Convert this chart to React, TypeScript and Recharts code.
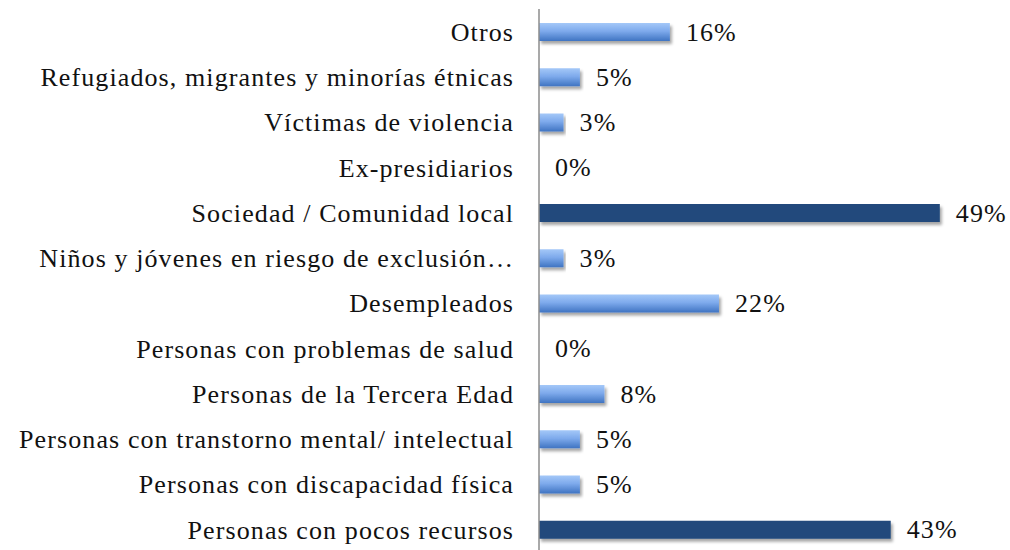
import { BarChart, Bar, XAxis, YAxis, Cell, LabelList } from "recharts";

const categories = [
  "Otros",
  "Refugiados, migrantes y minorías étnicas",
  "Víctimas de violencia",
  "Ex-presidiarios",
  "Sociedad / Comunidad local",
  "Niños y jóvenes en riesgo de exclusión…",
  "Desempleados",
  "Personas con problemas de salud",
  "Personas de la Tercera Edad",
  "Personas con transtorno mental/ intelectual",
  "Personas con discapacidad física",
  "Personas con pocos recursos",
];

const percentages = [16, 5, 3, 0, 49, 3, 22, 0, 8, 5, 5, 43];

// the two groups drawn in dark blue
const highlighted = ["Sociedad / Comunidad local", "Personas con pocos recursos"];

const data = categories.map((name, i) => ({ name, value: percentages[i] }));

const FONT = "'Liberation Serif', serif";
const textStyle = { fill: "#111", fontSize: 26, fontFamily: FONT, letterSpacing: 1.1 };

const ValueLabel = (props: any) => {
  const { x, y, width, height, value } = props;
  const w = value === 0 ? 0 : Number(width || 0);
  return (
    <text
      x={Number(x) + w + 16}
      y={Number(y) + Number(height) / 2}
      dominantBaseline="central"
      style={textStyle}
    >
      {`${value}%`}
    </text>
  );
};

export default function App() {
  return (
    <div style={{ position: "absolute", left: 0, top: 0, width: 1010, height: 550, overflow: "hidden", background: "#fff" }}>
      <BarChart
        width={1010}
        height={552}
        data={data}
        layout="vertical"
        margin={{ top: 9, right: 62, left: 0, bottom: 0 }}
        barSize={18}
      >
        <defs>
          <linearGradient id="lightBar" x1="0" y1="0" x2="0" y2="1">
            <stop offset="0%" stopColor="#a4c8f8" />
            <stop offset="45%" stopColor="#7eaaec" />
            <stop offset="100%" stopColor="#3f74c2" />
          </linearGradient>
          <filter id="barShadow" x="-5%" y="-30%" width="115%" height="190%">
            <feDropShadow dx="2" dy="3" stdDeviation="1.8" floodColor="#000" floodOpacity="0.35" />
          </filter>
        </defs>
        <XAxis type="number" domain={[0, 50]} hide />
        <YAxis
          type="category"
          dataKey="name"
          width={539}
          interval={0}
          tickLine={false}
          tickSize={0}
          tickMargin={25}
          axisLine={{ stroke: "#8c8c8c", strokeWidth: 1.5 }}
          tick={textStyle}
        />
        <Bar dataKey="value" isAnimationActive={false} minPointSize={1} filter="url(#barShadow)">
          {data.map((d) => (
            <Cell
              key={d.name}
              fill={d.value === 0 ? "transparent" : highlighted.includes(d.name) ? "#214a7c" : "url(#lightBar)"}
            />
          ))}
          <LabelList dataKey="value" content={ValueLabel} />
        </Bar>
      </BarChart>
    </div>
  );
}
